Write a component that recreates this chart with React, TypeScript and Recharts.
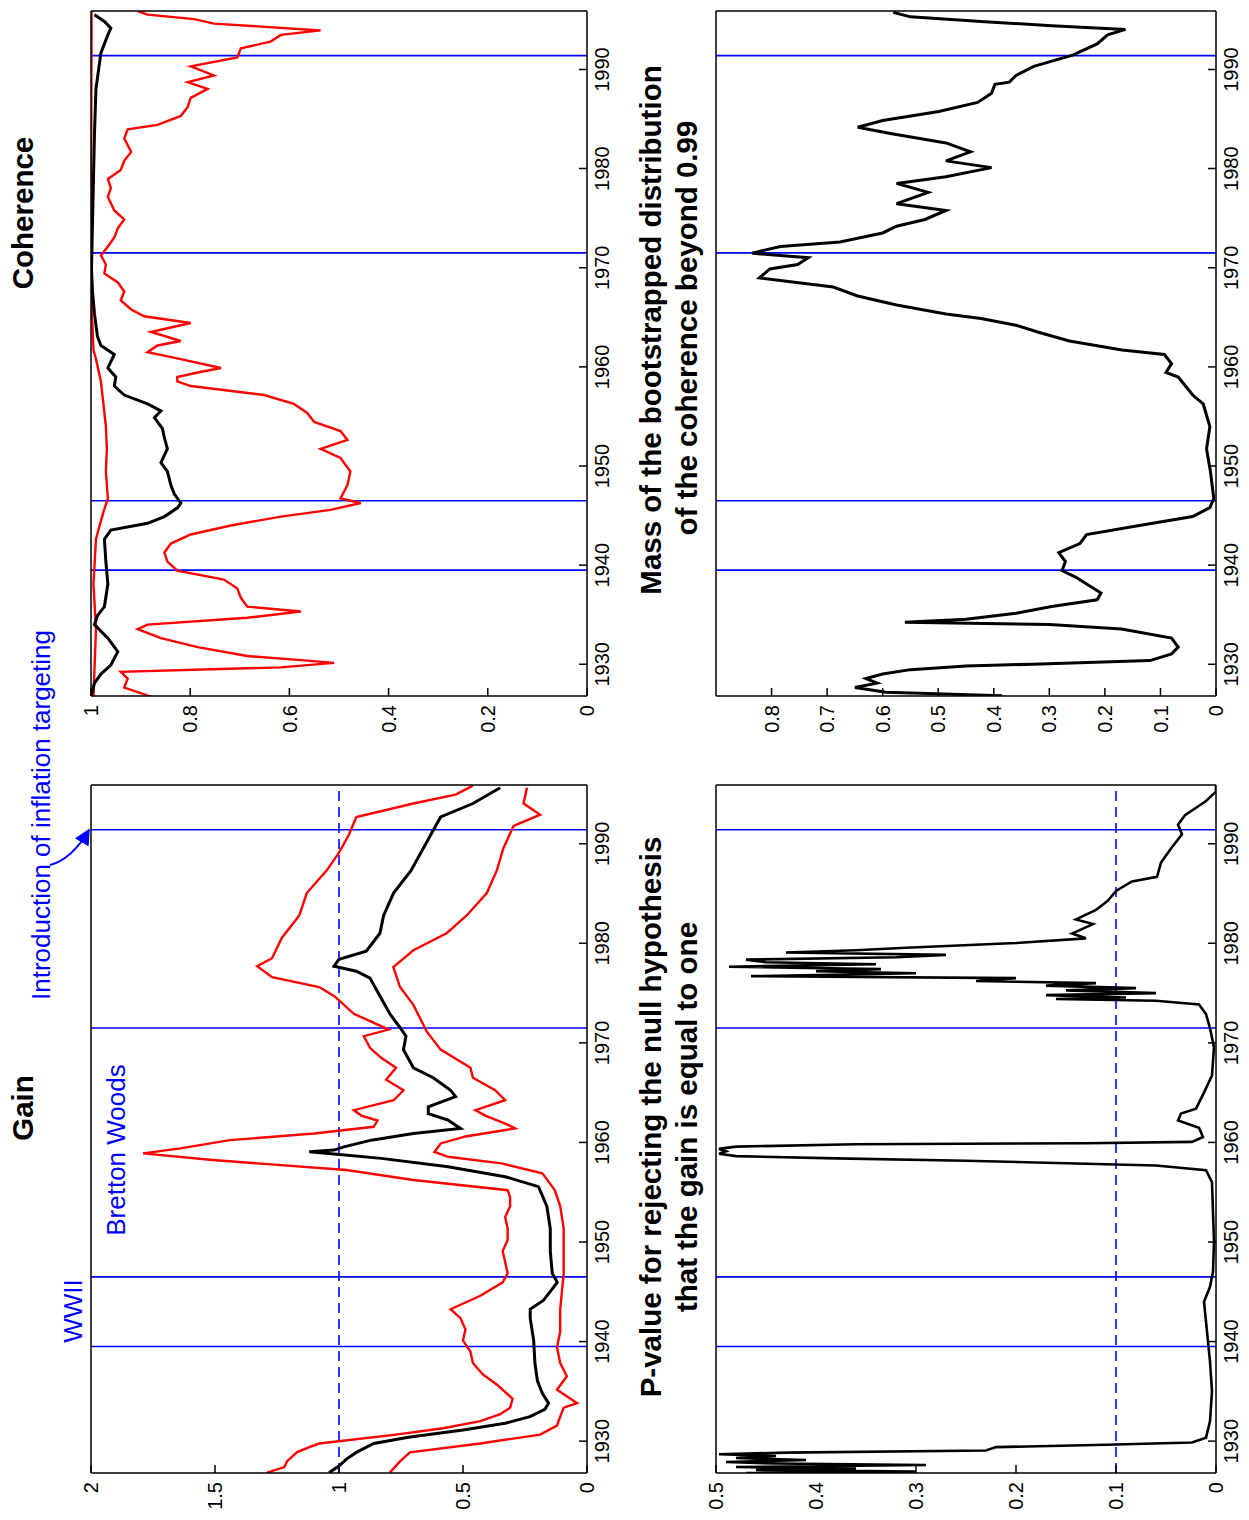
import React from 'react';
import { LineChart, Line, XAxis, YAxis, ReferenceLine } from 'recharts';

type Pair = [number, number];

const FONT = '"Liberation Sans", Arial, Helvetica, sans-serif';

const yearTicks = [1930, 1940, 1950, 1960, 1970, 1980, 1990];
const yearDomain: [number, number] = [1926.8, 1995.9];
const eventYears = [1939.5, 1946.5, 1971.5, 1991.4];

const gainTicks = [0, 0.5, 1, 1.5, 2];
const cohTicks = [0, 0.2, 0.4, 0.6, 0.8, 1];
const pTicks = [0, 0.1, 0.2, 0.3, 0.4, 0.5];
const massTicks = [0, 0.1, 0.2, 0.3, 0.4, 0.5, 0.6, 0.7, 0.8];

const gainEstimate: Pair[] = [
  [1926.84, 1.04], [1927.5, 1.0], [1928.2, 0.97], [1928.87, 0.93], [1929.76, 0.86], [1930.4, 0.72],
  [1931.11, 0.5], [1931.8, 0.33], [1932.46, 0.23], [1933.2, 0.17], [1933.81, 0.155], [1934.8, 0.18],
  [1936.06, 0.2], [1937.85, 0.21], [1940.1, 0.215], [1942.35, 0.229], [1943.25, 0.229], [1944.15, 0.175],
  [1945.95, 0.12], [1946.85, 0.14], [1949.09, 0.148], [1951.34, 0.148], [1953.59, 0.162], [1954.94, 0.185],
  [1955.56, 0.196], [1956.56, 0.33], [1957.56, 0.56], [1958.4, 0.83], [1958.83, 1.02], [1959.06, 1.12],
  [1959.23, 1.02], [1959.56, 0.98], [1960.23, 0.87], [1960.9, 0.7], [1961.4, 0.51], [1962.24, 0.56],
  [1962.9, 0.64], [1963.57, 0.64], [1964.6, 0.53], [1965.24, 0.55], [1966.5, 0.62], [1967.5, 0.7],
  [1969.32, 0.74], [1970.67, 0.73], [1971.57, 0.755], [1972.92, 0.795], [1974.71, 0.835], [1976.51, 0.875],
  [1977.2, 0.93], [1977.7, 1.02], [1978.4, 1.0], [1979.21, 0.89], [1981.01, 0.835], [1982.8, 0.82],
  [1985.05, 0.78], [1987.3, 0.71], [1989.55, 0.66], [1991.35, 0.62], [1992.69, 0.59], [1994.04, 0.46],
  [1995.62, 0.35],
];

const gainUpper: Pair[] = [
  [1926.84, 1.29], [1927.4, 1.22], [1927.96, 1.21], [1928.87, 1.17], [1929.3, 1.13], [1929.76, 1.08],
  [1930.66, 0.77], [1931.3, 0.58], [1932.01, 0.43], [1932.7, 0.35], [1933.36, 0.31], [1934.26, 0.3],
  [1935.61, 0.36], [1936.7, 0.42], [1937.85, 0.46], [1939.0, 0.47], [1940.1, 0.5], [1941.2, 0.49],
  [1942.35, 0.51], [1943.25, 0.55], [1944.6, 0.43], [1945.95, 0.34], [1946.85, 0.32], [1948.0, 0.33],
  [1949.09, 0.34], [1950.2, 0.32], [1951.34, 0.32], [1952.5, 0.33], [1953.59, 0.31], [1954.5, 0.31],
  [1955.2, 0.32], [1956.23, 0.7], [1957.23, 0.97], [1958.23, 1.51], [1958.9, 1.79], [1959.4, 1.64],
  [1960.23, 1.44], [1960.9, 1.1], [1961.57, 0.86], [1962.2, 0.845], [1962.7, 0.91], [1963.24, 0.94],
  [1964.24, 0.78], [1965.24, 0.74], [1966.3, 0.81], [1967.5, 0.77], [1968.5, 0.83], [1969.5, 0.875],
  [1970.67, 0.9], [1971.34, 0.8], [1972.92, 0.94], [1974.71, 1.02], [1975.61, 1.08], [1976.6, 1.27],
  [1977.7, 1.33], [1978.5, 1.27], [1980.56, 1.23], [1982.8, 1.16], [1985.05, 1.13], [1987.3, 1.05],
  [1989.1, 1.0], [1990.9, 0.96], [1992.69, 0.93], [1994.04, 0.7], [1994.94, 0.53], [1995.84, 0.46],
];

const gainLower: Pair[] = [
  [1926.84, 0.795], [1927.96, 0.754], [1928.87, 0.714], [1929.76, 0.431], [1930.66, 0.189], [1931.56, 0.121],
  [1932.46, 0.108], [1933.36, 0.094], [1933.81, 0.04], [1935.16, 0.121], [1936.51, 0.081], [1937.85, 0.108],
  [1939.43, 0.121], [1941.0, 0.108], [1943.25, 0.108], [1946.85, 0.094], [1949.09, 0.094], [1951.34, 0.094],
  [1953.59, 0.108], [1955.22, 0.13], [1956.9, 0.18], [1957.9, 0.345], [1958.56, 0.56], [1959.06, 0.615],
  [1959.9, 0.59], [1960.6, 0.49], [1961.4, 0.29], [1961.9, 0.33], [1962.7, 0.41], [1963.24, 0.45],
  [1964.24, 0.33], [1965.24, 0.37], [1966.5, 0.46], [1967.5, 0.47], [1969.32, 0.59], [1971.12, 0.646],
  [1973.82, 0.7], [1975.61, 0.754], [1977.6, 0.781], [1979.3, 0.7], [1981.01, 0.566], [1982.8, 0.485],
  [1985.05, 0.404], [1987.3, 0.364], [1989.55, 0.337], [1991.8, 0.296], [1992.92, 0.189], [1994.04, 0.256],
  [1995.62, 0.242],
];

const cohEstimate: Pair[] = [
  [1926.74, 1.0], [1928.1, 0.993], [1929.01, 0.98], [1929.92, 0.96], [1931.28, 0.946], [1932.64, 0.966],
  [1934.0, 0.993], [1934.91, 0.987], [1935.82, 0.973], [1938.09, 0.966], [1940.36, 0.97], [1942.63, 0.973],
  [1943.54, 0.96], [1944.22, 0.886], [1944.9, 0.852], [1945.81, 0.825], [1946.27, 0.819], [1947.17, 0.832],
  [1948.08, 0.839], [1949.45, 0.846], [1950.35, 0.859], [1951.72, 0.846], [1952.85, 0.852], [1953.76, 0.856],
  [1954.89, 0.872], [1955.57, 0.859], [1956.26, 0.886], [1957.16, 0.933], [1958.07, 0.953], [1958.98, 0.95],
  [1959.89, 0.966], [1961.25, 0.953], [1962.16, 0.98], [1963.07, 0.987], [1965.34, 0.993], [1967.61, 0.997],
  [1969.88, 0.999], [1974.42, 0.997], [1978.96, 0.995], [1983.5, 0.993], [1988.04, 0.99], [1991.68, 0.98],
  [1993.49, 0.966], [1994.17, 0.96], [1994.85, 0.973], [1995.53, 0.993],
];

const cohUpper: Pair[] = [
  [1926.74, 0.995], [1933.55, 0.99], [1938.09, 0.995], [1942.63, 0.99], [1943.54, 0.985], [1945.35, 0.975],
  [1946.72, 0.966], [1949.45, 0.97], [1951.72, 0.968], [1953.98, 0.97], [1956.26, 0.975], [1958.53, 0.98],
  [1960.79, 0.99], [1961.7, 0.995], [1965.34, 0.998], [1969.88, 1.0], [1995.9, 0.999],
];

const cohLower: Pair[] = [
  [1926.74, 0.879], [1927.65, 0.933], [1928.56, 0.926], [1929.24, 0.94], [1929.69, 0.617], [1930.14, 0.51],
  [1930.37, 0.564], [1930.83, 0.685], [1931.73, 0.785], [1932.64, 0.859], [1933.55, 0.906], [1934.0, 0.886],
  [1934.69, 0.685], [1935.32, 0.577], [1935.82, 0.685], [1936.73, 0.698], [1937.64, 0.705], [1938.54, 0.732],
  [1939.45, 0.826], [1940.36, 0.846], [1941.27, 0.852], [1942.18, 0.839], [1943.09, 0.799], [1944.0, 0.718],
  [1944.9, 0.617], [1945.58, 0.517], [1946.27, 0.456], [1946.72, 0.497], [1948.08, 0.483], [1949.45, 0.477],
  [1950.81, 0.497], [1951.72, 0.537], [1952.63, 0.483], [1953.53, 0.497], [1954.44, 0.55], [1955.35, 0.564],
  [1956.26, 0.591], [1957.16, 0.651], [1958.07, 0.799], [1958.53, 0.826], [1958.98, 0.826], [1959.43, 0.785],
  [1959.89, 0.738], [1960.79, 0.819], [1961.48, 0.886], [1962.16, 0.866], [1962.61, 0.819], [1963.52, 0.879],
  [1964.43, 0.799], [1965.11, 0.893], [1965.79, 0.919], [1966.7, 0.94], [1967.61, 0.933], [1968.52, 0.946],
  [1969.43, 0.973], [1970.33, 0.97], [1971.24, 0.98], [1972.15, 0.966], [1973.06, 0.953], [1973.97, 0.946],
  [1974.87, 0.933], [1975.78, 0.953], [1977.14, 0.966], [1978.05, 0.96], [1978.96, 0.966], [1979.87, 0.94],
  [1980.78, 0.933], [1981.69, 0.919], [1983.05, 0.933], [1983.96, 0.926], [1984.41, 0.866], [1985.32, 0.819],
  [1986.23, 0.805], [1987.14, 0.799], [1988.04, 0.765], [1988.72, 0.805], [1989.4, 0.752], [1990.31, 0.799],
  [1991.22, 0.705], [1992.13, 0.698], [1992.81, 0.638], [1993.49, 0.617], [1993.94, 0.537], [1994.63, 0.752],
  [1995.08, 0.792], [1995.53, 0.886], [1995.9, 0.906],
];

const pValue: Pair[] = [
  [1926.8, 0.47], [1926.95, 0.3], [1927.1, 0.46], [1927.25, 0.36], [1927.4, 0.48], [1927.6, 0.29],
  [1927.75, 0.44], [1927.9, 0.49], [1928.1, 0.41], [1928.3, 0.48], [1928.5, 0.44], [1928.68, 0.497],
  [1928.85, 0.43], [1929.06, 0.23], [1929.4, 0.22], [1929.63, 0.11], [1929.87, 0.024], [1930.35, 0.01],
  [1932.0, 0.006], [1935.0, 0.004], [1938.0, 0.006], [1940.0, 0.008], [1942.0, 0.01], [1944.0, 0.012],
  [1945.5, 0.006], [1947.0, 0.003], [1950.0, 0.002], [1953.0, 0.003], [1956.0, 0.004], [1957.21, 0.01],
  [1957.68, 0.06], [1958.16, 0.25], [1958.4, 0.38], [1958.63, 0.48], [1958.87, 0.497], [1959.11, 0.49],
  [1959.35, 0.497], [1959.58, 0.48], [1959.82, 0.36], [1959.92, 0.13], [1960.06, 0.024], [1960.54, 0.013],
  [1961.48, 0.017], [1962.2, 0.038], [1962.91, 0.035], [1963.39, 0.02], [1964.81, 0.013], [1966.72, 0.004],
  [1969.57, 0.002], [1971.47, 0.006], [1972.9, 0.01], [1973.85, 0.017], [1974.23, 0.06], [1974.4, 0.16],
  [1974.56, 0.09], [1974.8, 0.17], [1975.0, 0.06], [1975.27, 0.15], [1975.5, 0.08], [1975.75, 0.17],
  [1976.0, 0.12], [1976.22, 0.24], [1976.5, 0.2], [1976.7, 0.465], [1977.0, 0.3], [1977.2, 0.4],
  [1977.41, 0.335], [1977.65, 0.487], [1977.89, 0.34], [1978.1, 0.45], [1978.36, 0.47], [1978.6, 0.32],
  [1978.84, 0.27], [1979.08, 0.43], [1979.3, 0.36], [1979.55, 0.31], [1980.03, 0.2], [1980.5, 0.13],
  [1980.98, 0.144], [1981.93, 0.123], [1982.4, 0.14], [1983.35, 0.12], [1984.3, 0.108], [1985.26, 0.1],
  [1986.21, 0.084], [1986.68, 0.059], [1988.11, 0.055], [1989.53, 0.045], [1990.96, 0.034], [1991.91, 0.038],
  [1992.86, 0.031], [1993.34, 0.024], [1994.29, 0.01], [1995.24, 0.0], [1995.8, 0.0],
];

const massBeyond: Pair[] = [
  [1926.83, 0.385], [1927.19, 0.594], [1927.65, 0.65], [1928.1, 0.61], [1928.56, 0.63], [1929.01, 0.6],
  [1929.46, 0.55], [1929.83, 0.45], [1930.01, 0.33], [1930.37, 0.119], [1931.05, 0.08], [1931.73, 0.068],
  [1932.64, 0.08], [1933.55, 0.17], [1934.01, 0.3], [1934.23, 0.56], [1934.55, 0.45], [1935.14, 0.36],
  [1935.82, 0.296], [1936.5, 0.214], [1937.18, 0.207], [1938.09, 0.233], [1938.77, 0.252], [1939.45, 0.277],
  [1940.36, 0.271], [1941.27, 0.283], [1942.18, 0.245], [1943.09, 0.233], [1944.0, 0.138], [1944.9, 0.042],
  [1945.81, 0.011], [1946.72, 0.004], [1949.45, 0.01], [1951.72, 0.017], [1953.98, 0.011], [1956.26, 0.023],
  [1957.16, 0.042], [1958.07, 0.055], [1958.98, 0.068], [1959.43, 0.09], [1960.34, 0.08], [1961.25, 0.093],
  [1961.7, 0.169], [1962.61, 0.264], [1963.52, 0.321], [1964.2, 0.36], [1964.88, 0.423], [1965.34, 0.486],
  [1966.25, 0.575], [1967.15, 0.645], [1968.06, 0.689], [1968.97, 0.822], [1969.88, 0.803], [1970.33, 0.753],
  [1971.01, 0.734], [1971.47, 0.835], [1972.15, 0.784], [1972.6, 0.677], [1973.51, 0.6], [1974.19, 0.575],
  [1974.87, 0.524], [1975.78, 0.486], [1976.46, 0.575], [1977.6, 0.518], [1978.51, 0.575], [1979.19, 0.486],
  [1980.1, 0.404], [1980.78, 0.486], [1981.69, 0.442], [1982.59, 0.486], [1983.5, 0.581], [1984.18, 0.645],
  [1984.86, 0.6], [1985.77, 0.499], [1986.68, 0.429], [1987.59, 0.404], [1988.5, 0.398], [1988.72, 0.372],
  [1989.4, 0.36], [1990.31, 0.328], [1991.45, 0.258], [1992.58, 0.214], [1993.49, 0.195], [1994.04, 0.163],
  [1994.4, 0.296], [1994.85, 0.423], [1995.31, 0.55], [1995.76, 0.581],
];

const toRows = (pairs: Pair[]) => pairs.map(([year, v]) => ({ year, v }));

type Series = { data: Pair[]; color: string; width: number };

const YW = 60;
const RW = 1;
const TH = 1;
const XH = 40;
const MT = 16;
const TICK_FONT = { fill: '#000', fontSize: 20, fontFamily: FONT };

function Panel(props: {
  left: number;
  top: number;
  plotW: number;
  plotH: number;
  yDomain: [number, number];
  yTicks: number[];
  series: Series[];
  hLine?: number;
}) {
  const { left, top, plotW, plotH, yDomain, yTicks, series, hLine } = props;
  return (
    <div style={{ position: 'absolute', left: left - YW, top: top - TH - MT }}>
      <LineChart
        width={YW + plotW + RW}
        height={MT + TH + plotH + XH}
        margin={{ top: MT, right: 0, bottom: 0, left: 0 }}
      >
        <XAxis
          xAxisId="b"
          type="number"
          dataKey="year"
          domain={yearDomain}
          ticks={yearTicks}
          allowDataOverflow
          orientation="bottom"
          height={XH}
          interval={0}
          tickSize={-8}
          tickMargin={16}
          stroke="#000"
          strokeWidth={1.5}
          tick={TICK_FONT}
        />
        <XAxis
          xAxisId="t"
          type="number"
          dataKey="year"
          domain={yearDomain}
          ticks={yearTicks}
          allowDataOverflow
          orientation="top"
          height={TH}
          interval={0}
          tick={false}
          tickSize={-8}
          stroke="#000"
          strokeWidth={1.5}
        />
        <YAxis
          yAxisId="l"
          type="number"
          domain={yDomain}
          ticks={yTicks}
          allowDataOverflow
          width={YW}
          interval={0}
          tickSize={-8}
          tickMargin={17}
          stroke="#000"
          strokeWidth={1.5}
          tick={TICK_FONT}
          tickFormatter={(v: number) => String(v)}
        />
        <YAxis
          yAxisId="r"
          type="number"
          orientation="right"
          domain={yDomain}
          ticks={yTicks}
          allowDataOverflow
          width={RW}
          interval={0}
          tick={false}
          tickSize={-8}
          stroke="#000"
          strokeWidth={1.5}
        />
        {eventYears.map((yr) => (
          <ReferenceLine key={yr} xAxisId="b" yAxisId="l" x={yr} stroke="#0000ff" strokeWidth={1.6} />
        ))}
        {hLine !== undefined && (
          <ReferenceLine xAxisId="b" yAxisId="l" y={hLine} stroke="#0000ff" strokeWidth={1.6} strokeDasharray="10 6" />
        )}
        {series.map((s, i) => (
          <Line
            key={i}
            xAxisId="b"
            yAxisId="l"
            data={toRows(s.data)}
            dataKey="v"
            type="linear"
            stroke={s.color}
            strokeWidth={s.width}
            dot={false}
            activeDot={false}
            isAnimationActive={false}
          />
        ))}
      </LineChart>
    </div>
  );
}

const LEFT_X = 47;
const RIGHT_X = 824;
const TOP_Y = 91;
const BOTTOM_Y = 716;

export default function App() {
  return (
    <div
      style={{
        position: 'absolute',
        left: 0,
        top: 0,
        width: 1520,
        height: 1249,
        background: '#fff',
        transformOrigin: '0 0',
        transform: 'translateY(1520px) rotate(-90deg)',
        fontFamily: FONT,
      }}
    >
      <style>{`body{margin:0;overflow:hidden;background:#fff}`}</style>
      <Panel
        left={LEFT_X}
        top={TOP_Y}
        plotW={688}
        plotH={496}
        yDomain={[0, 2]}
        yTicks={gainTicks}
        hLine={1}
        series={[
          { data: gainUpper, color: '#ff0000', width: 2.4 },
          { data: gainLower, color: '#ff0000', width: 2.4 },
          { data: gainEstimate, color: '#000000', width: 3 },
        ]}
      />
      <Panel
        left={RIGHT_X}
        top={TOP_Y}
        plotW={685}
        plotH={496}
        yDomain={[0, 1]}
        yTicks={cohTicks}
        series={[
          { data: cohUpper, color: '#ff0000', width: 2.4 },
          { data: cohLower, color: '#ff0000', width: 2.4 },
          { data: cohEstimate, color: '#000000', width: 3 },
        ]}
      />
      <Panel
        left={LEFT_X}
        top={BOTTOM_Y}
        plotW={688}
        plotH={500}
        yDomain={[0, 0.5]}
        yTicks={pTicks}
        hLine={0.1}
        series={[{ data: pValue, color: '#000000', width: 2.6 }]}
      />
      <Panel
        left={RIGHT_X}
        top={BOTTOM_Y}
        plotW={685}
        plotH={500}
        yDomain={[0, 0.9]}
        yTicks={massTicks}
        series={[{ data: massBeyond, color: '#000000', width: 3 }]}
      />
      <svg
        width={1520}
        height={1249}
        style={{ position: 'absolute', left: 0, top: 0, pointerEvents: 'none' }}
      >
        <defs>
          <marker id="ah" viewBox="0 0 10 10" refX="9" refY="5" markerWidth="8" markerHeight="8" orient="auto">
            <path d="M0,0 L10,5 L0,10 z" fill="#0000ff" />
          </marker>
        </defs>
        <g fontFamily={FONT} fill="#000" fontWeight="bold" fontSize={29.5} textAnchor="middle">
          <text x={412} y={33}>Gain</text>
          <text x={1307} y={33}>Coherence</text>
          <text x={403} y={661}>P-value for rejecting the null hypothesis</text>
          <text x={403} y={697}>that the gain is equal to one</text>
          <text x={1190} y={661}>Mass of the bootstrapped distribution</text>
          <text x={1192} y={697}>of the coherence beyond 0.99</text>
        </g>
        <g fontFamily={FONT} fill="#0000ff" fontSize={26} textAnchor="middle">
          <text x={705} y={50}>Introduction of inflation targeting</text>
          <text x={370} y={125}>Bretton Woods</text>
          <text x={209} y={82}>WWII</text>
        </g>
        <path
          d="M655,50 C658,62 668,76 690,89"
          stroke="#0000ff"
          strokeWidth={2}
          fill="none"
          markerEnd="url(#ah)"
        />
      </svg>
    </div>
  );
}
